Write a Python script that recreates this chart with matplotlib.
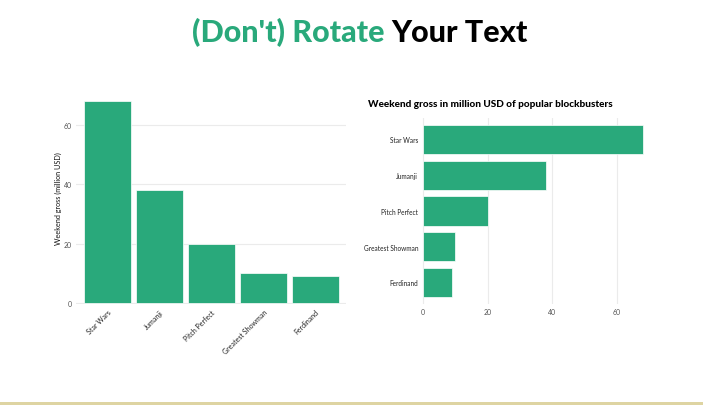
import matplotlib.pyplot as plt
from matplotlib.patches import Rectangle

plt.rcParams['font.family'] = ['Lato', 'DejaVu Sans']

# 資料
movies = ['Star Wars', 'Jumanji', 'Pitch Perfect', 'Greatest Showman', 'Ferdinand']
gross = [68, 38, 20, 10, 9]
value_ticks = [0, 20, 40, 60]

green = '#29a97b'
grid_c = '#ebebeb'

fig = plt.figure(figsize=(7.2, 4.06), dpi=100)

# 標題：兩種顏色
renderer = fig.canvas.get_renderer()
ty = 1 - 33 / 406
t1 = fig.text(0, ty, "(Don't) Rotate ", color=green, fontsize=22, fontweight='black', va='center')
t2 = fig.text(0, ty, "Your Text", color='black', fontsize=22, fontweight='black', va='center')
w1 = t1.get_window_extent(renderer).width / 720
w2 = t2.get_window_extent(renderer).width / 720
x0 = 0.5 - (w1 + w2) / 2
t1.set_x(x0)
t2.set_x(x0 + w1)

# 左圖：直條圖，x 標籤旋轉
ax1 = fig.add_axes([0.106, 0.2488, 0.375, 0.5246])
pos = list(range(len(movies)))
ax1.bar(pos, gross, width=0.9, color=green, edgecolor='white', linewidth=0.5, zorder=2)
ax1.set_xlim(-0.6, len(movies) - 0.4)
ax1.set_ylim(-0.3, 71.4)
ax1.set_yticks(value_ticks)
ax1.set_yticklabels([str(v) for v in value_ticks], fontsize=5, color='#555555')
ax1.set_xticks(pos)
ax1.set_xticklabels(movies, rotation=45, ha='right', rotation_mode='anchor', fontsize=5, color='#222222')
ax1.set_ylabel('Weekend gross (million USD)', fontsize=5.2, color='#111111')
ax1.yaxis.set_label_coords(-0.052, 0.5)
ax1.yaxis.grid(True, color=grid_c, linewidth=0.8, zorder=0)
ax1.tick_params(length=0, pad=3)
for s in ax1.spines.values():
    s.set_visible(False)

# 右圖：橫條圖，不用旋轉
ax2 = fig.add_axes([0.5847, 0.249, 0.3236, 0.458])
ax2.barh(pos, gross, height=0.82, color=green, edgecolor='white', linewidth=0.5, zorder=2)
ax2.set_ylim(len(movies) - 0.4, -0.6)
ax2.set_xlim(-0.6, 71.4)
ax2.set_xticks(value_ticks)
ax2.set_xticklabels([str(v) for v in value_ticks], fontsize=5, color='#555555')
ax2.set_yticks(pos)
ax2.set_yticklabels(movies, fontsize=4.7, color='#222222')
ax2.xaxis.grid(True, color=grid_c, linewidth=0.8, zorder=0)
ax2.tick_params(axis='y', length=0, pad=2)
ax2.tick_params(axis='x', length=0, pad=3)
for s in ax2.spines.values():
    s.set_visible(False)
fig.text(368 / 720, 1 - 105 / 406, 'Weekend gross in million USD of popular blockbusters',
         fontsize=7.2, fontweight='black', va='center', ha='left')

# 底部線條
fig.add_artist(Rectangle((0, 0), 703 / 720, 3 / 406, transform=fig.transFigure,
                         color='#ded4a2', linewidth=0))

fig.savefig('out.png', dpi=100)
